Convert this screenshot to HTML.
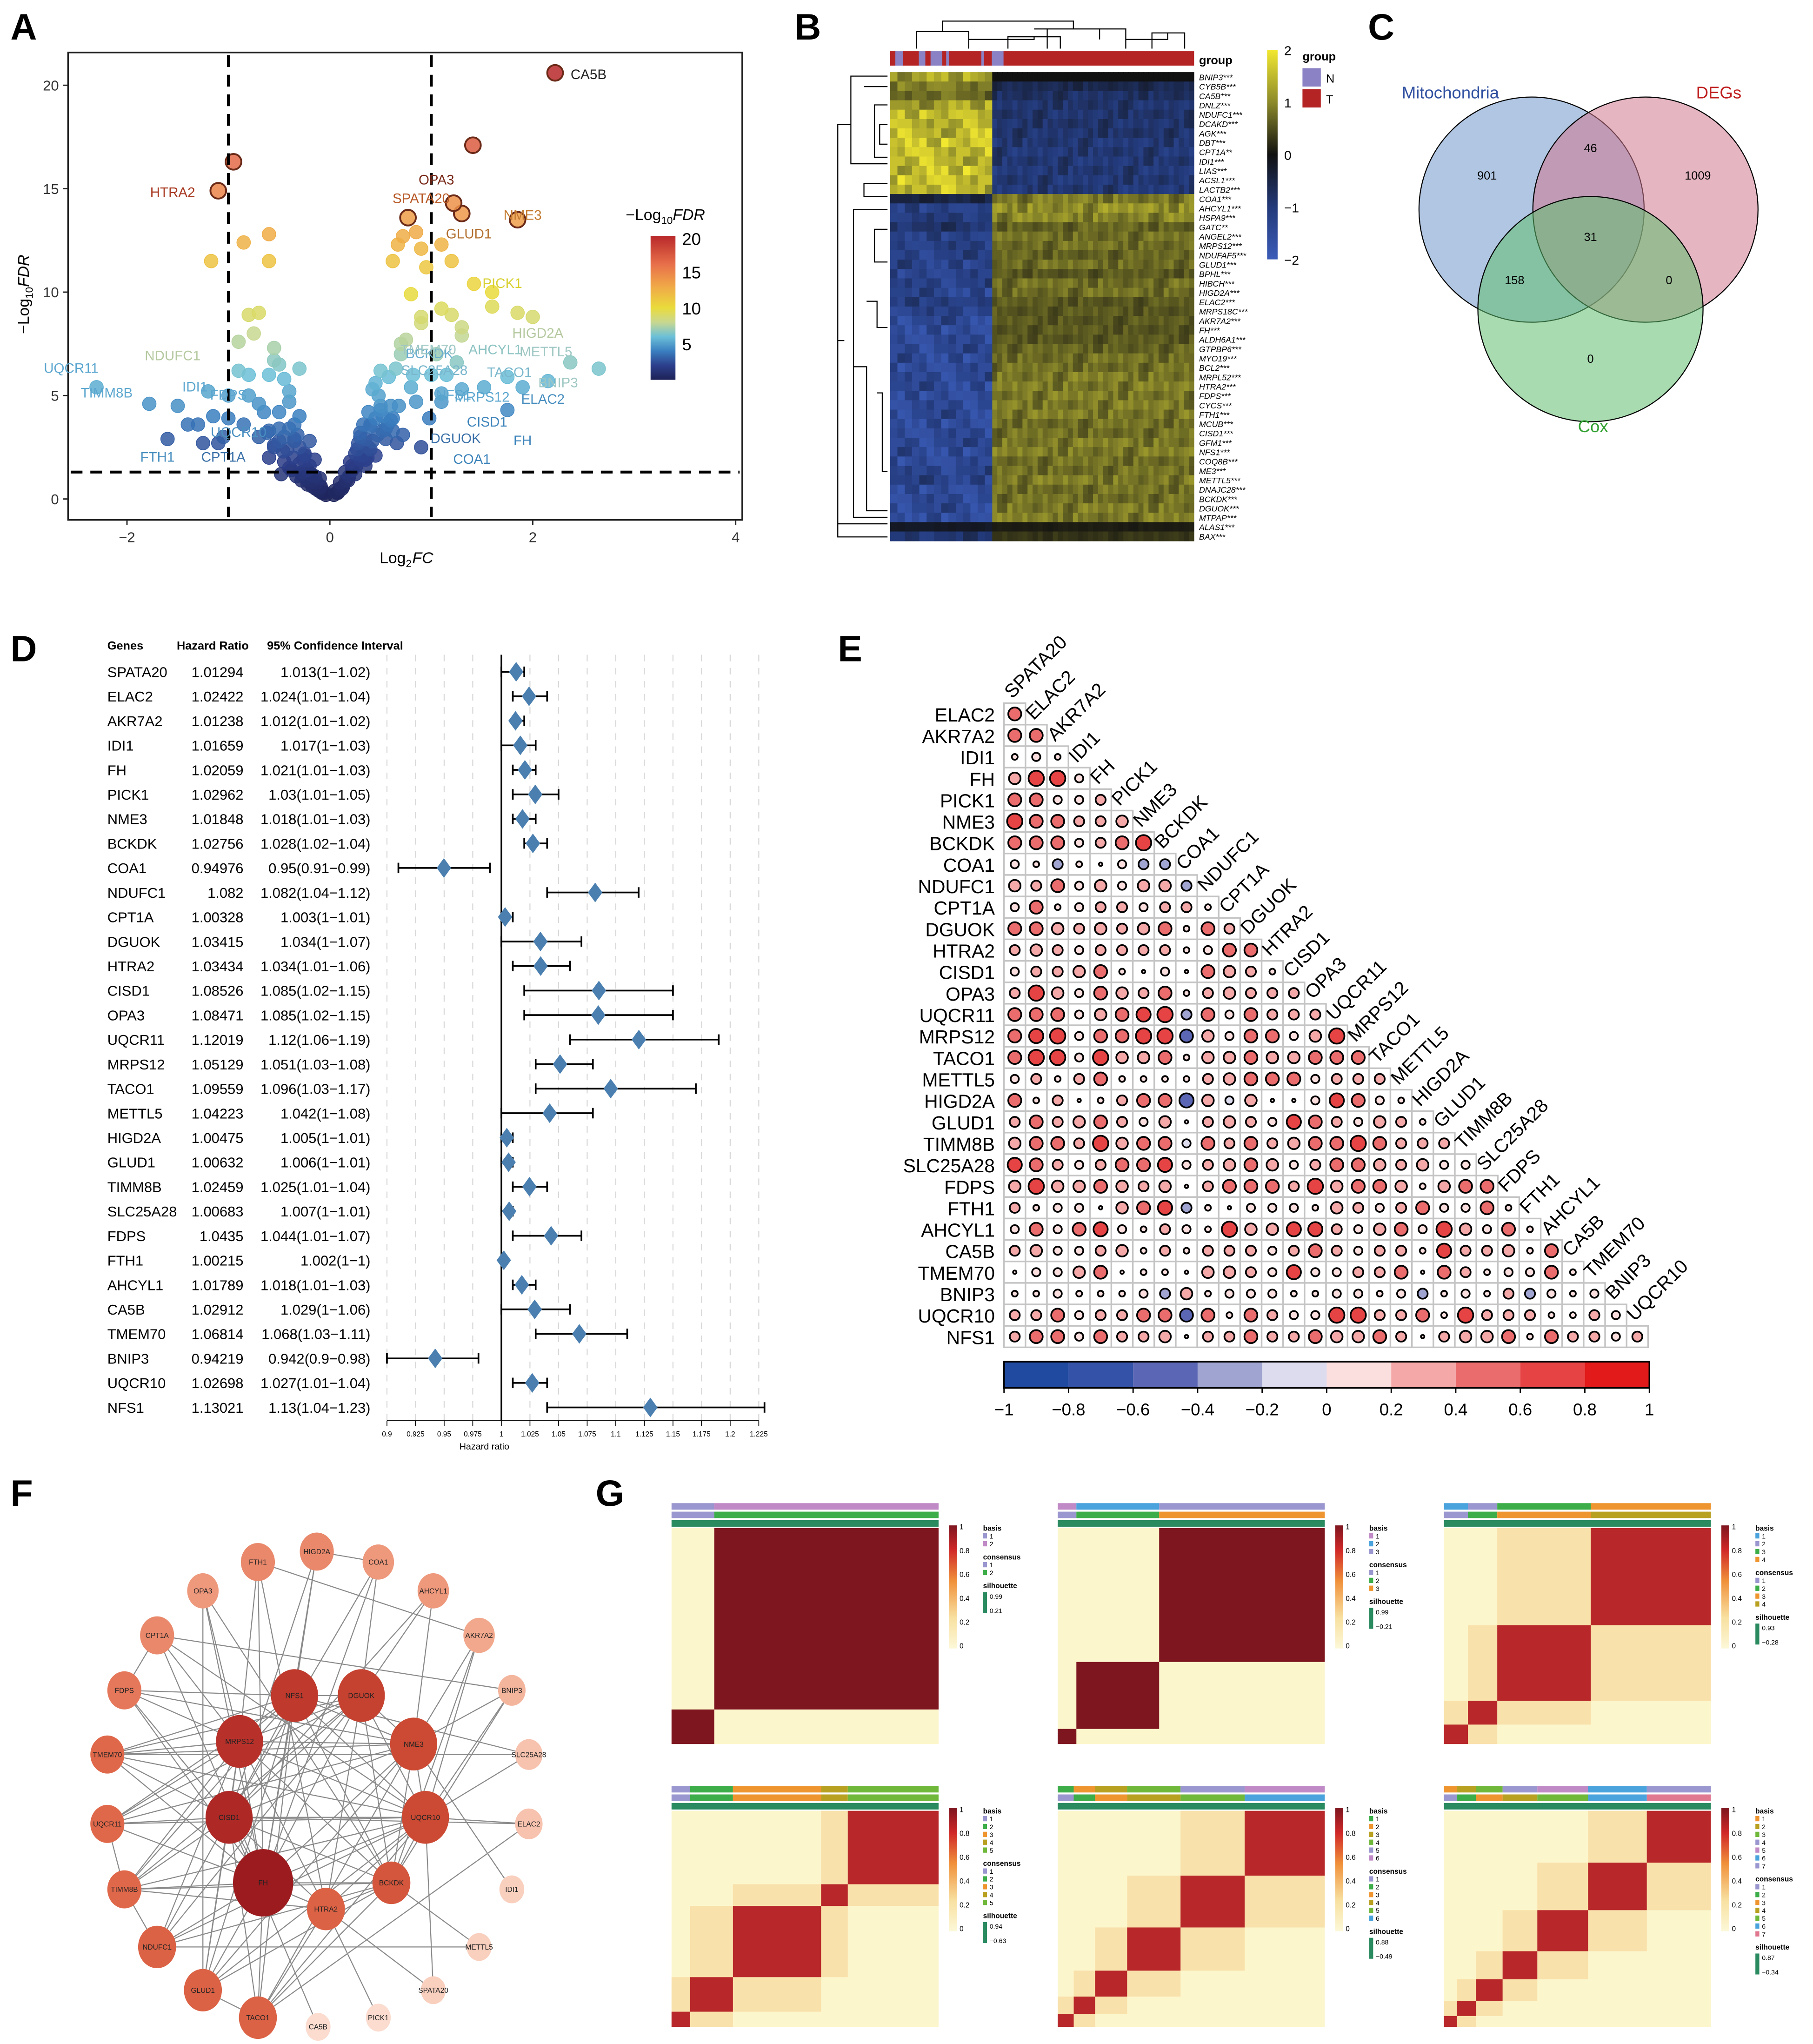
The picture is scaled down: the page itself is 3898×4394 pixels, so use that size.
<!DOCTYPE html>
<html><head><meta charset="utf-8"><style>
html,body{margin:0;padding:0;background:#fff;}
svg{display:block;}
text{font-family:"Liberation Sans",sans-serif;}
</style></head><body>
<svg id="fig" xmlns="http://www.w3.org/2000/svg" width="3898" height="4394" viewBox="0 0 1385 1561">
<rect x="0" y="0" width="1385" height="1561" fill="#fff"/>
</svg>
<script>
// ---------- Panel A data ----------
const volcanoFC = [-2.3,-1.78,-1.6,-1.5,-1.3,-1.2,-1.0,-0.95,-1.1,-1.17,-0.85,-0.6,-0.6,-0.55,-0.8,-0.7,-0.5,-0.3,-0.9,-0.6,-0.4,-0.8,-0.7,-0.5,-0.35,-0.9,-0.6,-0.45,-0.3,-0.25,-0.2,-0.15,-0.1,-0.05,-0.4,-1.0,-1.1,-0.75,-0.55,-0.3,-0.2,-0.15,-0.1,-0.8,-0.45,-1.4,-1.25,-1.05,-0.65,-0.5,-0.35,-0.25,-0.45,-0.55,-0.38,-0.28,-0.18,-0.12,-0.08,-0.22,-0.32,-0.6,-0.7,-0.85,-1.15,
-0.42,-0.36,-0.3,-0.27,-0.24,-0.2,-0.17,-0.14,-0.11,-0.07,-0.04,-0.5,-0.46,-0.4,-0.33,-0.28,-0.22,-0.19,-0.13,-0.09,-0.62,-0.55,-0.48,-0.4,-0.35,-0.26,
2.22,1.41,1.22,1.3,1.85,0.77,0.85,0.72,0.67,1.1,1.2,0.62,0.95,0.9,2.65,2.37,2.15,1.9,1.75,1.42,1.6,1.3,1.1,0.85,0.6,0.5,0.4,0.3,0.25,0.2,0.1,0.15,0.05,0.5,0.7,0.9,1.1,1.3,1.6,1.0,0.6,0.4,1.3,1.1,0.8,0.35,0.45,0.8,0.9,1.2,1.85,2.0,0.55,0.9,0.28,0.33,0.38,0.42,0.48,0.52,0.58,0.65,0.7,0.75,0.62,0.45,0.35,0.25,0.18,0.12,0.08,0.22,0.55,0.68,0.82,1.05,1.25,1.52,1.75,0.98,1.15,
0.04,0.07,0.1,0.13,0.16,0.19,0.22,0.26,0.3,0.34,0.38,0.42,0.47,0.52,0.57,0.62,0.3,0.35,0.4,0.45,0.5,0.27,0.32,0.37,0.66,0.72];
const volcanoFDR = [5.4,4.6,2.9,4.5,3.6,5.2,5.0,16.3,14.9,11.5,12.4,12.8,11.5,6.7,8.9,9.0,6.5,6.3,7.6,6.0,5.2,5.0,4.6,4.2,3.6,6.2,3.3,3.0,2.5,2.1,1.6,1.1,0.6,0.3,4.7,3.9,2.7,8.0,7.3,4.0,2.8,1.9,1.0,6.0,5.8,3.6,2.7,3.0,4.2,3.4,2.8,2.2,1.8,2.6,1.4,1.2,0.9,0.5,0.3,1.4,3.1,2.0,3.0,3.6,4.0,
2.4,2.0,1.7,1.3,1.0,0.8,0.6,0.5,0.4,0.3,0.2,2.8,2.3,1.5,1.1,0.9,0.7,1.2,0.8,0.6,3.2,2.5,1.2,3.4,2.9,1.9,
20.6,17.1,14.3,13.8,13.5,13.6,12.9,12.7,12.3,12.3,11.5,11.5,11.2,12.1,6.3,6.6,5.7,5.4,5.9,10.4,9.3,8.3,5.1,4.7,4.5,4.5,3.5,3.0,2.2,1.8,0.8,1.3,0.4,6.2,7.5,8.8,9.2,7.9,10.0,6.0,3.8,2.4,5.3,4.7,5.4,1.6,5.6,9.9,8.5,8.9,9.0,8.8,2.9,2.5,2.7,3.6,4.2,5.3,5.0,4.0,5.9,6.3,7.0,7.7,3.3,2.1,1.9,1.2,0.9,0.5,0.3,1.6,3.4,4.5,6.0,7.0,6.6,5.4,4.3,3.9,6.0,
0.2,0.3,0.5,0.6,0.9,1.1,1.4,1.6,1.9,2.2,2.5,2.8,3.1,3.3,3.6,3.9,3.2,2.9,3.6,3.9,4.3,2.4,2.1,2.0,2.7,3.1];
const volcanoLabels = ["CA5B","OPA3","HTRA2","SPATA20","NME3","GLUD1","PICK1","HIGD2A","NDUFC1","UQCR11","IDI1","TIMM8B","BCKDK","AHCYL1","METTL5","BNIP3","TACO1","MRPS12","ELAC2","CISD1","FH","DGUOK","COA1","UQCR10","CPT1A","FTH1","FDPS","SLC25A28","NFS1","TMEM70"];
const volcanoLabelFC = [2.55,1.05,-1.55,0.9,1.9,1.37,1.7,2.05,-1.55,-2.55,-1.33,-2.2,0.98,1.63,2.13,2.25,1.77,1.5,2.1,1.55,1.9,1.24,1.4,-0.9,-1.05,-1.7,-1.0,1.03,1.22,0.97];
const volcanoLabelFDR = [20.3,15.2,14.6,14.3,13.5,12.6,10.2,7.8,6.7,6.1,5.2,4.9,6.8,7.0,6.9,5.4,5.9,4.7,4.6,3.5,2.6,2.7,1.7,3.0,1.8,1.8,4.8,6.0,4.8,7.0];
const volcanoLabelColors = ["#222","#7a2a1a","#a83a22","#b85a28","#c47a30","#b27030","#d8d030","#b5c9a0","#b5c9a0","#5ba6cf","#5ba6cf","#5ba6cf","#6aaed0","#8ec3c3","#9ec7c3","#9ec7c3","#7ab7cc","#5ba6cf","#4a90c0","#3f85bb","#3f85bb","#3a70a8","#3f85bb","#4a90c0","#3a70a8","#4a90c0","#5ba6cf","#7ab7cc","#5ba6cf","#9ec7c3"];
const volcanoXTicks = [-2,0,2,4];
const volcanoYTicks = [0,5,10,15,20];
const fdrLegendTicks = [5,10,15,20];

// ---------- Panel B data ----------
const hmGenes = ["BNIP3***","CYB5B***","CA5B***","DNLZ***","NDUFC1***","DCAKD***","AGK***","DBT***","CPT1A**","IDI1***","LIAS***","ACSL1***","LACTB2***","COA1***","AHCYL1***","HSPA9***","GATC**","ANGEL2***","MRPS12***","NDUFAF5***","GLUD1***","BPHL***","HIBCH***","HIGD2A***","ELAC2***","MRPS18C***","AKR7A2***","FH***","ALDH6A1***","GTPBP6***","MYO19***","BCL2***","MRPL52***","HTRA2***","FDPS***","CYCS***","FTH1***","MCUB***","CISD1***","GFM1***","NFS1***","COQ8B***","ME3***","METTL5***","DNAJC28***","BCKDK***","DGUOK***","MTPAP***","ALAS1***","BAX***"];
const hmNormal = [1.3,0.9,0.8,1.3,1.5,1.5,1.6,1.6,1.6,1.6,1.6,1.6,1.6,-0.5,-1.2,-1.1,-0.9,-1.2,-1.2,-1.3,-1.3,-1.3,-1.3,-1.4,-1.1,-1.3,-1.5,-1.5,-1.5,-1.5,-1.5,-1.5,-1.5,-1.5,-1.5,-1.5,-1.5,-1.5,-1.5,-1.5,-1.5,-1.5,-1.4,-1.3,-1.5,-1.5,-1.5,-1.5,-0.2,-1.0];
const hmTumor = [0.0,-0.6,-0.8,-0.9,-0.9,-0.9,-0.9,-1.0,-1.0,-1.0,-1.0,-1.0,-1.0,0.9,1.1,1.0,0.7,0.8,0.8,0.7,0.8,0.6,0.8,0.8,0.6,0.6,0.6,0.6,0.6,0.7,0.8,0.8,0.9,0.9,0.9,0.9,0.9,0.8,0.8,0.9,0.9,0.8,0.8,0.9,0.8,0.8,0.9,0.9,0.1,0.3];
const hmColShade = [1.0,0.8,1.15,0.7,1.0,1.2,0.85,0.6,1.1,0.9,1.25,0.75,1.0,0.95,0.65,1.15,0.9,1.05,0.8,1.2,0.7,1.0,1.1,0.85,0.95,1.2,0.75,1.0,0.9,1.1];
const hmGroup = ["T","N","T","N","T","N","T","N","T","N","T","N","T"];
const hmGroupWidth = [4,6,12,5,4,9,3,2,25,2,6,9,146];
const hmScaleTicks = [2,1,0,-1,-2];

// ---------- Panel C data ----------
const vennLabels = ["Mitochondria","DEGs","Cox"];
const vennCounts = [901,46,1009,31,158,0,0];

// ---------- Panel D data ----------
const forestGenes = ["SPATA20","ELAC2","AKR7A2","IDI1","FH","PICK1","NME3","BCKDK","COA1","NDUFC1","CPT1A","DGUOK","HTRA2","CISD1","OPA3","UQCR11","MRPS12","TACO1","METTL5","HIGD2A","GLUD1","TIMM8B","SLC25A28","FDPS","FTH1","AHCYL1","CA5B","TMEM70","BNIP3","UQCR10","NFS1"];
const forestHR = [1.01294,1.02422,1.01238,1.01659,1.02059,1.02962,1.01848,1.02756,0.94976,1.082,1.00328,1.03415,1.03434,1.08526,1.08471,1.12019,1.05129,1.09559,1.04223,1.00475,1.00632,1.02459,1.00683,1.0435,1.00215,1.01789,1.02912,1.06814,0.94219,1.02698,1.13021];
const forestLow = [1,1.01,1.01,1,1.01,1.01,1.01,1.02,0.91,1.04,1,1,1.01,1.02,1.02,1.06,1.03,1.03,1,1,1,1.01,1,1.01,1,1.01,1,1.03,0.9,1.01,1.04];
const forestHigh = [1.02,1.04,1.02,1.03,1.03,1.05,1.03,1.04,0.99,1.12,1.01,1.07,1.06,1.15,1.15,1.19,1.08,1.17,1.08,1.01,1.01,1.04,1.01,1.07,1,1.03,1.06,1.11,0.98,1.04,1.23];
const forestHRText = ["1.013","1.024","1.012","1.017","1.021","1.03","1.018","1.028","0.95","1.082","1.003","1.034","1.034","1.085","1.085","1.12","1.051","1.096","1.042","1.005","1.006","1.025","1.007","1.044","1.002","1.018","1.029","1.068","0.942","1.027","1.13"];
const forestTicks = [0.9,0.925,0.95,0.975,1,1.025,1.05,1.075,1.1,1.125,1.15,1.175,1.2,1.225];

// ---------- Panel E data ----------
const corrRowGenes = ["ELAC2","AKR7A2","IDI1","FH","PICK1","NME3","BCKDK","COA1","NDUFC1","CPT1A","DGUOK","HTRA2","CISD1","OPA3","UQCR11","MRPS12","TACO1","METTL5","HIGD2A","GLUD1","TIMM8B","SLC25A28","FDPS","FTH1","AHCYL1","CA5B","TMEM70","BNIP3","UQCR10","NFS1"];
const corrColGenes = ["SPATA20","ELAC2","AKR7A2","IDI1","FH","PICK1","NME3","BCKDK","COA1","NDUFC1","CPT1A","DGUOK","HTRA2","CISD1","OPA3","UQCR11","MRPS12","TACO1","METTL5","HIGD2A","GLUD1","TIMM8B","SLC25A28","FDPS","FTH1","AHCYL1","CA5B","TMEM70","BNIP3","UQCR10"];
// digits = r*10 ; letters a..f = -0.1..-0.6
const corrRows = ["5","55","121","4772","55223","755334","5552357","21c102cc","43524244c","2512332331","55434345153","343233331255","2334510205431","37425435134333","55524567c525333","56725577e4255247","57727445144544555","231351111345552333","51301355f4b40026521","35345324034326532431","45537455b535345575333","6532355623454235543422","47445434035553745541455","31220456c102221432352251","2525621321744663245274251","34223413133323532331633415","022450110443262233505312251","1121112c41222112212c1213c212","33523355e51532277335173331132","355253340335335445303445153323"];
const corrTicks = [-1,-0.8,-0.6,-0.4,-0.2,0,0.2,0.4,0.6,0.8,1];

// ---------- Panel F data ----------
const netNodes = ["FH","CISD1","MRPS12","NFS1","DGUOK","NME3","UQCR10","BCKDK","HTRA2","FTH1","HIGD2A","COA1","AHCYL1","OPA3","CPT1A","AKR7A2","FDPS","BNIP3","TMEM70","SLC25A28","UQCR11","ELAC2","TIMM8B","IDI1","NDUFC1","METTL5","GLUD1","SPATA20","TACO1","PICK1","CA5B"];
const netDegree = [20,18,17,16,15,14,14,12,10,7,7,6,6,6,7,5,8,4,9,3,9,3,9,2,10,2,10,2,10,1,1];
const netEdges = ["FH-CISD1","FH-MRPS12","FH-NFS1","FH-DGUOK","FH-NME3","FH-UQCR10","FH-BCKDK","FH-HTRA2","FH-TIMM8B","FH-UQCR11","FH-TMEM70","FH-NDUFC1","FH-GLUD1","FH-TACO1","FH-FDPS","FH-FTH1","FH-COA1","FH-HIGD2A","FH-OPA3","FH-CPT1A",
"CISD1-MRPS12","CISD1-NFS1","CISD1-DGUOK","CISD1-NME3","CISD1-UQCR10","CISD1-BCKDK","CISD1-HTRA2","CISD1-UQCR11","CISD1-TIMM8B","CISD1-NDUFC1","CISD1-GLUD1","CISD1-TACO1","CISD1-TMEM70","CISD1-FDPS","CISD1-HIGD2A","CISD1-COA1","CISD1-AHCYL1","CISD1-ELAC2","CISD1-CA5B",
"MRPS12-NFS1","MRPS12-DGUOK","MRPS12-NME3","MRPS12-UQCR10","MRPS12-BCKDK","MRPS12-HTRA2","MRPS12-FDPS","MRPS12-TMEM70","MRPS12-UQCR11","MRPS12-TIMM8B","MRPS12-NDUFC1","MRPS12-GLUD1","MRPS12-OPA3","MRPS12-FTH1","MRPS12-CPT1A",
"NFS1-DGUOK","NFS1-NME3","NFS1-UQCR10","NFS1-BCKDK","NFS1-TMEM70","NFS1-FDPS","NFS1-UQCR11","NFS1-TIMM8B","NFS1-GLUD1","NFS1-TACO1","NFS1-HIGD2A","NFS1-SLC25A28",
"DGUOK-NME3","DGUOK-UQCR10","DGUOK-BCKDK","DGUOK-HTRA2","DGUOK-TMEM70","DGUOK-UQCR11","DGUOK-TIMM8B","DGUOK-NDUFC1","DGUOK-COA1","DGUOK-AHCYL1",
"NME3-UQCR10","NME3-BCKDK","NME3-FDPS","NME3-TMEM70","NME3-UQCR11","NME3-GLUD1","NME3-TACO1","NME3-AKR7A2","NME3-BNIP3","NME3-AHCYL1","NME3-IDI1",
"UQCR10-BCKDK","UQCR10-HTRA2","UQCR10-UQCR11","UQCR10-TIMM8B","UQCR10-TMEM70","UQCR10-NDUFC1","UQCR10-GLUD1","UQCR10-TACO1","UQCR10-ELAC2","UQCR10-SLC25A28","UQCR10-AKR7A2","UQCR10-SPATA20","UQCR10-BNIP3","UQCR10-CPT1A",
"BCKDK-HTRA2","BCKDK-TIMM8B","BCKDK-NDUFC1","BCKDK-GLUD1","BCKDK-TACO1","BCKDK-METTL5","BCKDK-AKR7A2","BCKDK-BNIP3",
"HTRA2-TIMM8B","HTRA2-TACO1","HTRA2-SPATA20","HTRA2-PICK1","HTRA2-FTH1","HIGD2A-COA1","NDUFC1-METTL5","TACO1-ELAC2","FTH1-AKR7A2","OPA3-GLUD1","CPT1A-BNIP3","TMEM70-SLC25A28","OPA3-BCKDK","CPT1A-FDPS","UQCR11-TIMM8B","TIMM8B-NDUFC1","GLUD1-TACO1"];

// ---------- Panel G data ----------
const consensusK = [2,3,4,5,6,7];
const consensusFractions = [[0.16,0.84],[0.07,0.31,0.62],[0.09,0.11,0.35,0.45],[0.07,0.16,0.33,0.1,0.34],[0.06,0.08,0.12,0.2,0.24,0.3],[0.05,0.07,0.1,0.13,0.19,0.22,0.24]];
const consensusSilhouette = [[0.99,0.21],[0.99,-0.21],[0.93,-0.28],[0.94,-0.63],[0.88,-0.49],[0.87,-0.34]];
const consensusLegendTicks = [1,0.8,0.6,0.4,0.2,0];

// ================== drawing ==================
const NS='http://www.w3.org/2000/svg';
const svg=document.getElementById('fig');
function mk(tag, attrs, name, parent){
  const el=document.createElementNS(NS,tag);
  for(const k in attrs) el.setAttribute(k,attrs[k]);
  
  
  (parent||svg).appendChild(el);
  return el;
}
function tx(x,y,s,size,extra,name,parent){
  const a={x:x,y:y,'font-size':size};
  for(const k in (extra||{})) a[k]=extra[k];
  const e=mk('text',a,name,parent);
  e.textContent=s;
  return e;
}
function grp(name){ return mk('g',{},name); }
function lerpColor(stops,v){
  if(v<=stops[0][0]) return stops[0][1];
  for(let i=1;i<stops.length;i++){
    if(v<=stops[i][0]){
      const t=(v-stops[i-1][0])/(stops[i][0]-stops[i-1][0]);
      const a=hex(stops[i-1][1]), b=hex(stops[i][1]);
      return 'rgb('+a.map((c,j)=>Math.round(c+(b[j]-c)*t)).join(',')+')';
    }
  }
  return stops[stops.length-1][1];
}
function hex(h){h=h.replace('#','');return [0,2,4].map(i=>parseInt(h.substr(i,2),16));}

// panel letters
[['A',8,30],['B',607,30],['C',1045,30],['D',8,505],['E',640,505],['F',8,1150],['G',455,1150]].forEach(p=>{
  tx(p[1],p[2],p[0],28,{'font-weight':'bold'},'panel-label-'+p[0].toLowerCase());
});

// ---------- A: volcano ----------
(function(){
  const g=grp('volcano-plot');
  const xs=v=>252+v*77.5, ys=v=>381-v*15.8;
  const fdrStops=[[0,'#1e2357'],[2,'#2c3f8c'],[4,'#3a7fc0'],[6,'#6cc0d8'],[8,'#c8d890'],[10,'#eadb3c'],[13,'#f0a848'],[16,'#e8704a'],[20,'#b8282a']];
  mk('rect',{x:52,y:40,width:515,height:357,fill:'none',stroke:'#222','stroke-width':1.2},'volcano-frame',g);
  volcanoXTicks.forEach(t=>{
    mk('line',{x1:xs(t),y1:397,x2:xs(t),y2:401,stroke:'#222'},'x-tick',g);
    tx(xs(t),414,t<0?'−'+Math.abs(t):String(t),11,{'text-anchor':'middle',fill:'#333'},'x-tick-label',g);
  });
  volcanoYTicks.forEach(t=>{
    mk('line',{x1:48,y1:ys(t),x2:52,y2:ys(t),stroke:'#222'},'y-tick',g);
    tx(45,ys(t)+4,String(t),11,{'text-anchor':'end',fill:'#333'},'y-tick-label',g);
  });
  const pts=mk('g',{},'volcano-points',g);
  const order=volcanoFDR.map((v,i)=>i).sort((a,b)=>volcanoFDR[a]-volcanoFDR[b]);
  order.forEach(i=>{
    const f=volcanoFDR[i], c=lerpColor(fdrStops,f);
    mk('circle',{cx:xs(volcanoFC[i]),cy:ys(f),r:f>13?6:5.2,fill:c,'fill-opacity':0.85,stroke:f>13?'#6b2a18':c,'stroke-width':f>13?1.4:0.5},'volcano-point',pts);
  });
  mk('line',{x1:xs(-1),y1:42,x2:xs(-1),y2:395,stroke:'#000','stroke-width':2.2,'stroke-dasharray':'9,6'},'fc-threshold-left',g);
  mk('line',{x1:xs(1),y1:42,x2:xs(1),y2:395,stroke:'#000','stroke-width':2.2,'stroke-dasharray':'9,6'},'fc-threshold-right',g);
  mk('line',{x1:54,y1:ys(1.3),x2:565,y2:ys(1.3),stroke:'#000','stroke-width':2.2,'stroke-dasharray':'9,6'},'fdr-threshold',g);
  volcanoLabels.forEach((s,i)=>{
    tx(xs(volcanoLabelFC[i]),ys(volcanoLabelFDR[i]),s,10.5,{fill:volcanoLabelColors[i],'text-anchor':'middle'},'gene-label',g);
  });
  tx(310,430,'Log',12,{'text-anchor':'end'},'x-axis-title',g);
  tx(310,433,'2',8,{},'x-axis-title-sub',g);
  tx(315,430,'FC',12,{'font-style':'italic'},'x-axis-title-fc',g);
  const yt=mk('text',{transform:'translate(22,255) rotate(-90)','font-size':12},'y-axis-title',g);
  yt.innerHTML='<tspan>−Log</tspan><tspan font-size="8" dy="3">10</tspan><tspan dy="-3" font-style="italic">FDR</tspan>';
  const lt=mk('text',{x:478,y:168,'font-size':12},'legend-title',g);
  lt.innerHTML='<tspan>−Log</tspan><tspan font-size="8" dy="3">10</tspan><tspan dy="-3" font-style="italic">FDR</tspan>';
  const defs=mk('defs',{},'defs',g);
  const lg=mk('linearGradient',{id:'fdrGrad',x1:0,y1:1,x2:0,y2:0},'fdr-gradient',defs);
  fdrStops.forEach(s=>mk('stop',{offset:(s[0]/20),'stop-color':s[1]},'grad-stop',lg));
  mk('rect',{x:497,y:180,width:19,height:110,fill:'url(#fdrGrad)'},'legend-colorbar',g);
  fdrLegendTicks.forEach(t=>{
    const y=290-(t/20)*110+ (t===20?2:0);
    tx(521,y+5,String(t),13,{},'legend-tick-label',g);
  });
})();

// ---------- B: heatmap ----------
(function(){
  const g=grp('expression-heatmap');
  const x0=680,x1=912,y0=55,y1=413, nR=hmGenes.length, rh=(y1-y0)/nR;
  const nTotal=hmGroupWidth.reduce((a,b)=>a+b,0);
  const xN=758;
  const stops=[[-2,'#3b5cb8'],[-1,'#233a7a'],[0,'#111111'],[1,'#8c8a2a'],[2,'#f2e830']];
  const nCols=hmColShade.length;
  hmGenes.forEach((gname,r)=>{
    const y=y0+r*rh;
    const nw=(xN-x0)/14, tw=(x1-xN)/40;
    for(let c=0;c<14;c++){
      const v=hmNormal[r]*hmColShade[(c*7+r*3)%nCols];
      mk('rect',{x:x0+c*nw,y:y,width:nw+0.3,height:rh+0.3,fill:lerpColor(stops,v)},'heatmap-cell',g);
    }
    for(let c=0;c<40;c++){
      const v=hmTumor[r]*hmColShade[(c*11+r*7)%nCols];
      mk('rect',{x:xN+c*tw,y:y,width:tw+0.3,height:rh+0.3,fill:lerpColor(stops,v)},'heatmap-cell',g);
    }
    tx(916,y+rh-1,gname,6.3,{'font-style':'italic'},'heatmap-row-label',g);
  });
  let cx=x0;
  hmGroup.forEach((gr,i)=>{
    const w=hmGroupWidth[i]/nTotal*(x1-x0);
    mk('rect',{x:cx,y:39,width:w+0.2,height:11,fill:gr==='N'?'#8a82c4':'#b52424'},'group-annotation',g);
    cx+=w;
  });
  tx(916,49,'group',9,{'font-weight':'bold'},'group-annotation-title',g);
  const d=mk('g',{fill:'none',stroke:'#000','stroke-width':0.8},'dendrogram-top',g);
  mk('path',{d:'M700,37 V24 H740 V37 M720,24 V16 H820 V22 M790,22 H860 V37 M800,22 V37 M840,22 V30 M880,37 V25 H905 V37 M860,30 H892 V25 M770,37 V28 H810 V37 M740,30 H790 V28'},'dendrogram-top-path',d);
  const d2=mk('g',{fill:'none',stroke:'#000','stroke-width':0.8},'dendrogram-left',g);
  mk('path',{d:'M678,58 H650 V125 H678 M678,66 H660 M678,80 H668 V120 H678 M678,95 H672 V110 H678 M650,95 H640 V260 H645 M678,140 H660 V150 H678 M678,160 H652 V395 H678 M678,175 H668 V200 H678 M652,280 H662 V390 H678 M662,230 H670 V250 H678 M670,300 H674 V360 H678 M640,260 V400 H678 M640,400 V410 H678'},'dendrogram-left-path',d2);
  const defs=mk('defs',{},'defs',g);
  const lg=mk('linearGradient',{id:'hmGrad',x1:0,y1:0,x2:0,y2:1},'heatmap-gradient',defs);
  stops.slice().reverse().forEach((s,i)=>mk('stop',{offset:i/4,'stop-color':s[1]},'grad-stop',lg));
  mk('rect',{x:968,y:38,width:8,height:160,fill:'url(#hmGrad)'},'heatmap-colorbar',g);
  hmScaleTicks.forEach((t,i)=>{
    const y=38+i*40;
    tx(981,y+4,t<0?'−'+Math.abs(t):String(t),10,{},'colorbar-tick-label',g);
  });
  tx(995,46,'group',9,{'font-weight':'bold'},'group-legend-title',g);
  mk('rect',{x:995,y:52,width:14,height:14,fill:'#8a82c4'},'legend-swatch-n',g);
  tx(1013,63,'N',9,{},'legend-label-n',g);
  mk('rect',{x:995,y:68,width:14,height:14,fill:'#b52424'},'legend-swatch-t',g);
  tx(1013,79,'T',9,{},'legend-label-t',g);
})();

// ---------- C: Venn ----------
(function(){
  const g=grp('venn-diagram');
  mk('circle',{cx:1170,cy:160,r:86,fill:'#6f98cc','fill-opacity':0.55,stroke:'#000','stroke-width':0.8},'venn-mitochondria',g);
  mk('circle',{cx:1257,cy:160,r:86,fill:'#d07890','fill-opacity':0.55,stroke:'#000','stroke-width':0.8},'venn-degs',g);
  mk('circle',{cx:1215,cy:236,r:86,fill:'#60c070','fill-opacity':0.55,stroke:'#000','stroke-width':0.8},'venn-cox',g);
  const serif={'font-family':'Liberation Serif, serif'};
  tx(1108,75,vennLabels[0],13,Object.assign({fill:'#3050a0','text-anchor':'middle'},serif),'venn-label-mitochondria',g);
  tx(1313,75,vennLabels[1],13,Object.assign({fill:'#c02020','text-anchor':'middle'},serif),'venn-label-degs',g);
  tx(1217,330,vennLabels[2],13,Object.assign({fill:'#30a030','text-anchor':'middle'},serif),'venn-label-cox',g);
  const pos=[[1136,137],[1215,116],[1297,137],[1215,184],[1157,217],[1275,217],[1215,277]];
  vennCounts.forEach((c,i)=>tx(pos[i][0],pos[i][1],String(c),9,Object.assign({'text-anchor':'middle'},serif),'venn-count',g));
})();

// ---------- D: forest plot ----------
(function(){
  const g=grp('forest-plot');
  const xs=v=>383+(v-1)*874, y0=513, dy=18.73;
  tx(82,496,'Genes',9,{'font-weight':'bold'},'header-genes',g);
  tx(135,496,'Hazard Ratio',9,{'font-weight':'bold'},'header-hazard-ratio',g);
  tx(204,496,'95% Confidence Interval',9,{'font-weight':'bold'},'header-ci',g);
  forestTicks.forEach(t=>{
    if(Math.abs(t-1)>1e-9) mk('line',{x1:xs(t),y1:500,x2:xs(t),y2:1085,stroke:'#d8d8d8','stroke-width':0.8,'stroke-dasharray':'5,5'},'grid-line',g);
    mk('line',{x1:xs(t),y1:1085,x2:xs(t),y2:1089,stroke:'#000','stroke-width':0.6},'x-tick',g);
    tx(xs(t),1097,String(t),5.5,{'text-anchor':'middle'},'x-tick-label',g);
  });
  mk('line',{x1:xs(0.9),y1:1085,x2:xs(1.225),y2:1085,stroke:'#000','stroke-width':0.6},'x-axis',g);
  mk('line',{x1:xs(1),y1:500,x2:xs(1),y2:1085,stroke:'#000','stroke-width':1.2},'reference-line',g);
  tx(370,1107,'Hazard ratio',7,{'text-anchor':'middle','font-family':'Liberation Serif, serif'},'x-axis-title',g);
  const fmt=v=>String(parseFloat(v.toFixed(2)));
  forestGenes.forEach((gn,i)=>{
    const y=y0+i*dy;
    tx(82,y+4,gn,11,{},'gene-name',g);
    tx(186,y+4,String(forestHR[i]),11,{'text-anchor':'end'},'hazard-ratio-value',g);
    tx(283,y+4,forestHRText[i]+'('+fmt(forestLow[i])+'−'+fmt(forestHigh[i])+')',11,{'text-anchor':'end'},'ci-value',g);
    const a=xs(forestLow[i]), b=xs(forestHigh[i]);
    mk('line',{x1:a,y1:y,x2:b,y2:y,stroke:'#000','stroke-width':1.3},'ci-line',g);
    mk('line',{x1:a,y1:y-4,x2:a,y2:y+4,stroke:'#000','stroke-width':1.3},'ci-cap',g);
    mk('line',{x1:b,y1:y-4,x2:b,y2:y+4,stroke:'#000','stroke-width':1.3},'ci-cap',g);
    const c=xs(forestHR[i]);
    mk('path',{d:`M${c-5.5},${y} L${c},${y-7.5} L${c+5.5},${y} L${c},${y+7.5} Z`,fill:'#4a7fb0'},'hr-diamond',g);
  });
})();

// ---------- E: correlation ----------
(function(){
  const g=grp('correlation-matrix');
  const x0=767,y0=537,cs=16.4;
  const segColors=['#1f4aa0','#3452a8','#5b67b4','#a0a4d0','#dcdcee','#fbdede','#f4a8a8','#eb6c6c','#e64444','#e21a1a'];
  const colorOf=r=>{let k=Math.floor((r+1)/0.2); if(k>9)k=9; if(k<0)k=0; return segColors[k];};
  const val=ch=>{ if(/[0-9]/.test(ch)) return parseInt(ch)/10; return -('abcdef'.indexOf(ch)+1)/10; };
  corrRowGenes.forEach((gn,i)=>{
    const y=y0+i*cs;
    tx(760,y+cs-2.5,gn,14.5,{'text-anchor':'end'},'row-label',g);
    const s=corrRows[i].padEnd(i+1,'2').slice(0,i+1);
    for(let j=0;j<=i;j++){
      const x=x0+j*cs;
      mk('rect',{x:x,y:y,width:cs,height:cs,fill:'#fff',stroke:'#c4c4c4','stroke-width':1.2},'corr-cell',g);
      const r=val(s[j]);
      mk('circle',{cx:x+cs/2,cy:y+cs/2,r:Math.max(1.3,7*Math.sqrt(Math.abs(r))),fill:colorOf(r),stroke:'#000','stroke-width':1.3},'corr-circle',g);
    }
  });
  corrColGenes.forEach((gn,j)=>{
    const x=x0+j*cs+cs/2-2, y=y0+j*cs-3;
    tx(0,0,gn,14.5,{transform:`translate(${x},${y}) rotate(-45)`},'column-label',g);
  });
  const bw=(1260-767)/10;
  segColors.forEach((c,k)=>mk('rect',{x:767+k*bw,y:1040,width:bw,height:20,fill:c},'colorbar-segment',g));
  mk('rect',{x:767,y:1040,width:493,height:20,fill:'none',stroke:'#000','stroke-width':1.2},'colorbar-frame',g);
  corrTicks.forEach((t,k)=>{
    mk('line',{x1:767+k*(493/10),y1:1060,x2:767+k*(493/10),y2:1064,stroke:'#000'},'colorbar-tick',g);
    tx(767+k*(493/10),1081,t<0?'−'+Math.abs(t):String(t),13,{'text-anchor':'middle'},'colorbar-tick-label',g);
  });
})();

// ---------- F: network ----------
(function(){
  const g=grp('ppi-network');
  const P={FH:[201,1438],CISD1:[175,1388],MRPS12:[183,1330],NFS1:[225,1295],DGUOK:[276,1295],NME3:[316,1332],UQCR10:[325,1388],BCKDK:[299,1438],HTRA2:[249,1458],FTH1:[197,1193],HIGD2A:[242,1185],COA1:[289,1193],AHCYL1:[331,1215],OPA3:[155,1215],CPT1A:[120,1249],AKR7A2:[366,1249],FDPS:[95,1291],BNIP3:[391,1291],TMEM70:[82,1340],SLC25A28:[404,1340],UQCR11:[82,1393],ELAC2:[404,1393],TIMM8B:[95,1443],IDI1:[391,1443],NDUFC1:[120,1487],METTL5:[366,1487],GLUD1:[155,1520],SPATA20:[331,1520],TACO1:[197,1541],PICK1:[289,1541],CA5B:[243,1548]};
  const eg=mk('g',{stroke:'#8a8a8a','stroke-width':0.8},'network-edges',g);
  netEdges.forEach(e=>{
    const [a,b]=e.split('-');
    mk('line',{x1:P[a][0],y1:P[a][1],x2:P[b][0],y2:P[b][1]},'network-edge',eg);
  });
  const stops=[[1,'#fbdccf'],[5,'#f2a88c'],[9,'#e0684a'],[14,'#cc4a33'],[17,'#b8302a'],[20,'#9b1b1e']];
  netNodes.forEach((n,i)=>{
    const d=netDegree[i];
    const r= i===0?23: (d>=14?18: d>=10?14.5: d>=7?13: d>=5?12: d>=3?10.5:9.5);
    mk('ellipse',{cx:P[n][0],cy:P[n][1],rx:r,ry:r*1.12,fill:lerpColor(stops,d)},'network-node',g);
    tx(P[n][0],P[n][1]+2,n,5.5,{'text-anchor':'middle',fill:'#222'},'node-label',g);
  });
})();

// ---------- G: consensus heatmaps ----------
(function(){
  const clusterColors=['#9a96cf','#c08ac6','#4aa3dc','#9a96cf','#3cad48','#ef9530','#b8a020','#6fb83a'];
  const consColors=['#9a96cf','#3cad48','#ef9530','#b8a020','#6fb83a','#4aa3dc','#e07890'];
  const panels=[[513,1167],[808,1167],[1103,1167],[513,1383],[808,1383],[1103,1383]];
  const W=204,H=165;
  consensusK.forEach((k,p)=>{
    const g=grp('consensus-map-k'+k);
    const [x0,y0]=panels[p];
    const fr=consensusFractions[p];
    mk('rect',{x:x0,y:y0,width:W,height:H,fill:'#fcf6cc'},'consensus-background',g);
    let cum=0; const bl=[];
    fr.forEach(f=>{bl.push([cum,f]);cum+=f;});
    if(k>=4){
      for(let i=1;i<bl.length;i++){
        const a=bl[i-1], b=bl[i];
        mk('rect',{x:x0+a[0]*W,y:y0+H-(b[0]+b[1])*H,width:(a[1])*W,height:b[1]*H,fill:'#f2b060','fill-opacity':0.3},'consensus-offblock',g);
        mk('rect',{x:x0+b[0]*W,y:y0+H-(a[0]+a[1])*H,width:(b[1])*W,height:a[1]*H,fill:'#f2b060','fill-opacity':0.3},'consensus-offblock',g);
      }
    }
    bl.forEach((b,i)=>{
      mk('rect',{x:x0+b[0]*W,y:y0+H-(b[0]+b[1])*H,width:b[1]*W,height:b[1]*H,fill:k<=3?'#7e1620':'#b8282a'},'consensus-block',g);
    });
    let c2=0;
    fr.forEach((f,i)=>{
      mk('rect',{x:x0+c2*W,y:y0-19,width:f*W,height:5,fill:clusterColors[(i+p)%clusterColors.length]},'basis-annotation',g);
      mk('rect',{x:x0+c2*W,y:y0-12.5,width:f*W,height:5,fill:consColors[i%consColors.length]},'consensus-annotation',g);
      c2+=f;
    });
    mk('rect',{x:x0,y:y0-6,width:W,height:5,fill:'#2a8a60'},'silhouette-annotation',g);
    const gid='cg'+p;
    const defs=mk('defs',{},'defs',g);
    const lg=mk('linearGradient',{id:gid,x1:0,y1:0,x2:0,y2:1},'consensus-gradient',defs);
    [['0','#7e1620'],['0.2','#d02828'],['0.45','#f0903a'],['0.75','#f8e0a0'],['1','#fcf8d8']].forEach(s=>mk('stop',{offset:s[0],'stop-color':s[1]},'grad-stop',lg));
    mk('rect',{x:x0+W+8,y:y0-2,width:6,height:94,fill:'url(#'+gid+')'},'consensus-colorbar',g);
    consensusLegendTicks.forEach((t,i)=>tx(x0+W+16,y0+1+i*18.2,String(t),5.5,{},'colorbar-tick-label',g));
    const lx=x0+W+34; let ly=y0+2;
    tx(lx,ly,'basis',5.5,{'font-weight':'bold'},'legend-title-basis',g); ly+=6;
    for(let i=0;i<k;i++){ mk('rect',{x:lx,y:ly-4,width:3,height:4,fill:clusterColors[(i+p)%clusterColors.length]},'legend-swatch',g); tx(lx+5,ly,String(i+1),5,{},'legend-label',g); ly+=6; }
    ly+=4;
    tx(lx,ly,'consensus',5.5,{'font-weight':'bold'},'legend-title-consensus',g); ly+=6;
    for(let i=0;i<k;i++){ mk('rect',{x:lx,y:ly-4,width:3,height:4,fill:consColors[i%consColors.length]},'legend-swatch',g); tx(lx+5,ly,String(i+1),5,{},'legend-label',g); ly+=6; }
    ly+=4;
    tx(lx,ly,'silhouette',5.5,{'font-weight':'bold'},'legend-title-silhouette',g); ly+=3;
    mk('rect',{x:lx,y:ly,width:3,height:16,fill:'#2a8a60'},'silhouette-bar',g);
    tx(lx+5,ly+5,String(consensusSilhouette[p][0]),5,{},'silhouette-max',g);
    tx(lx+5,ly+16,consensusSilhouette[p][1]<0?'−'+Math.abs(consensusSilhouette[p][1]):String(consensusSilhouette[p][1]),5,{},'silhouette-min',g);
  });
})();
</script>
</body></html>
